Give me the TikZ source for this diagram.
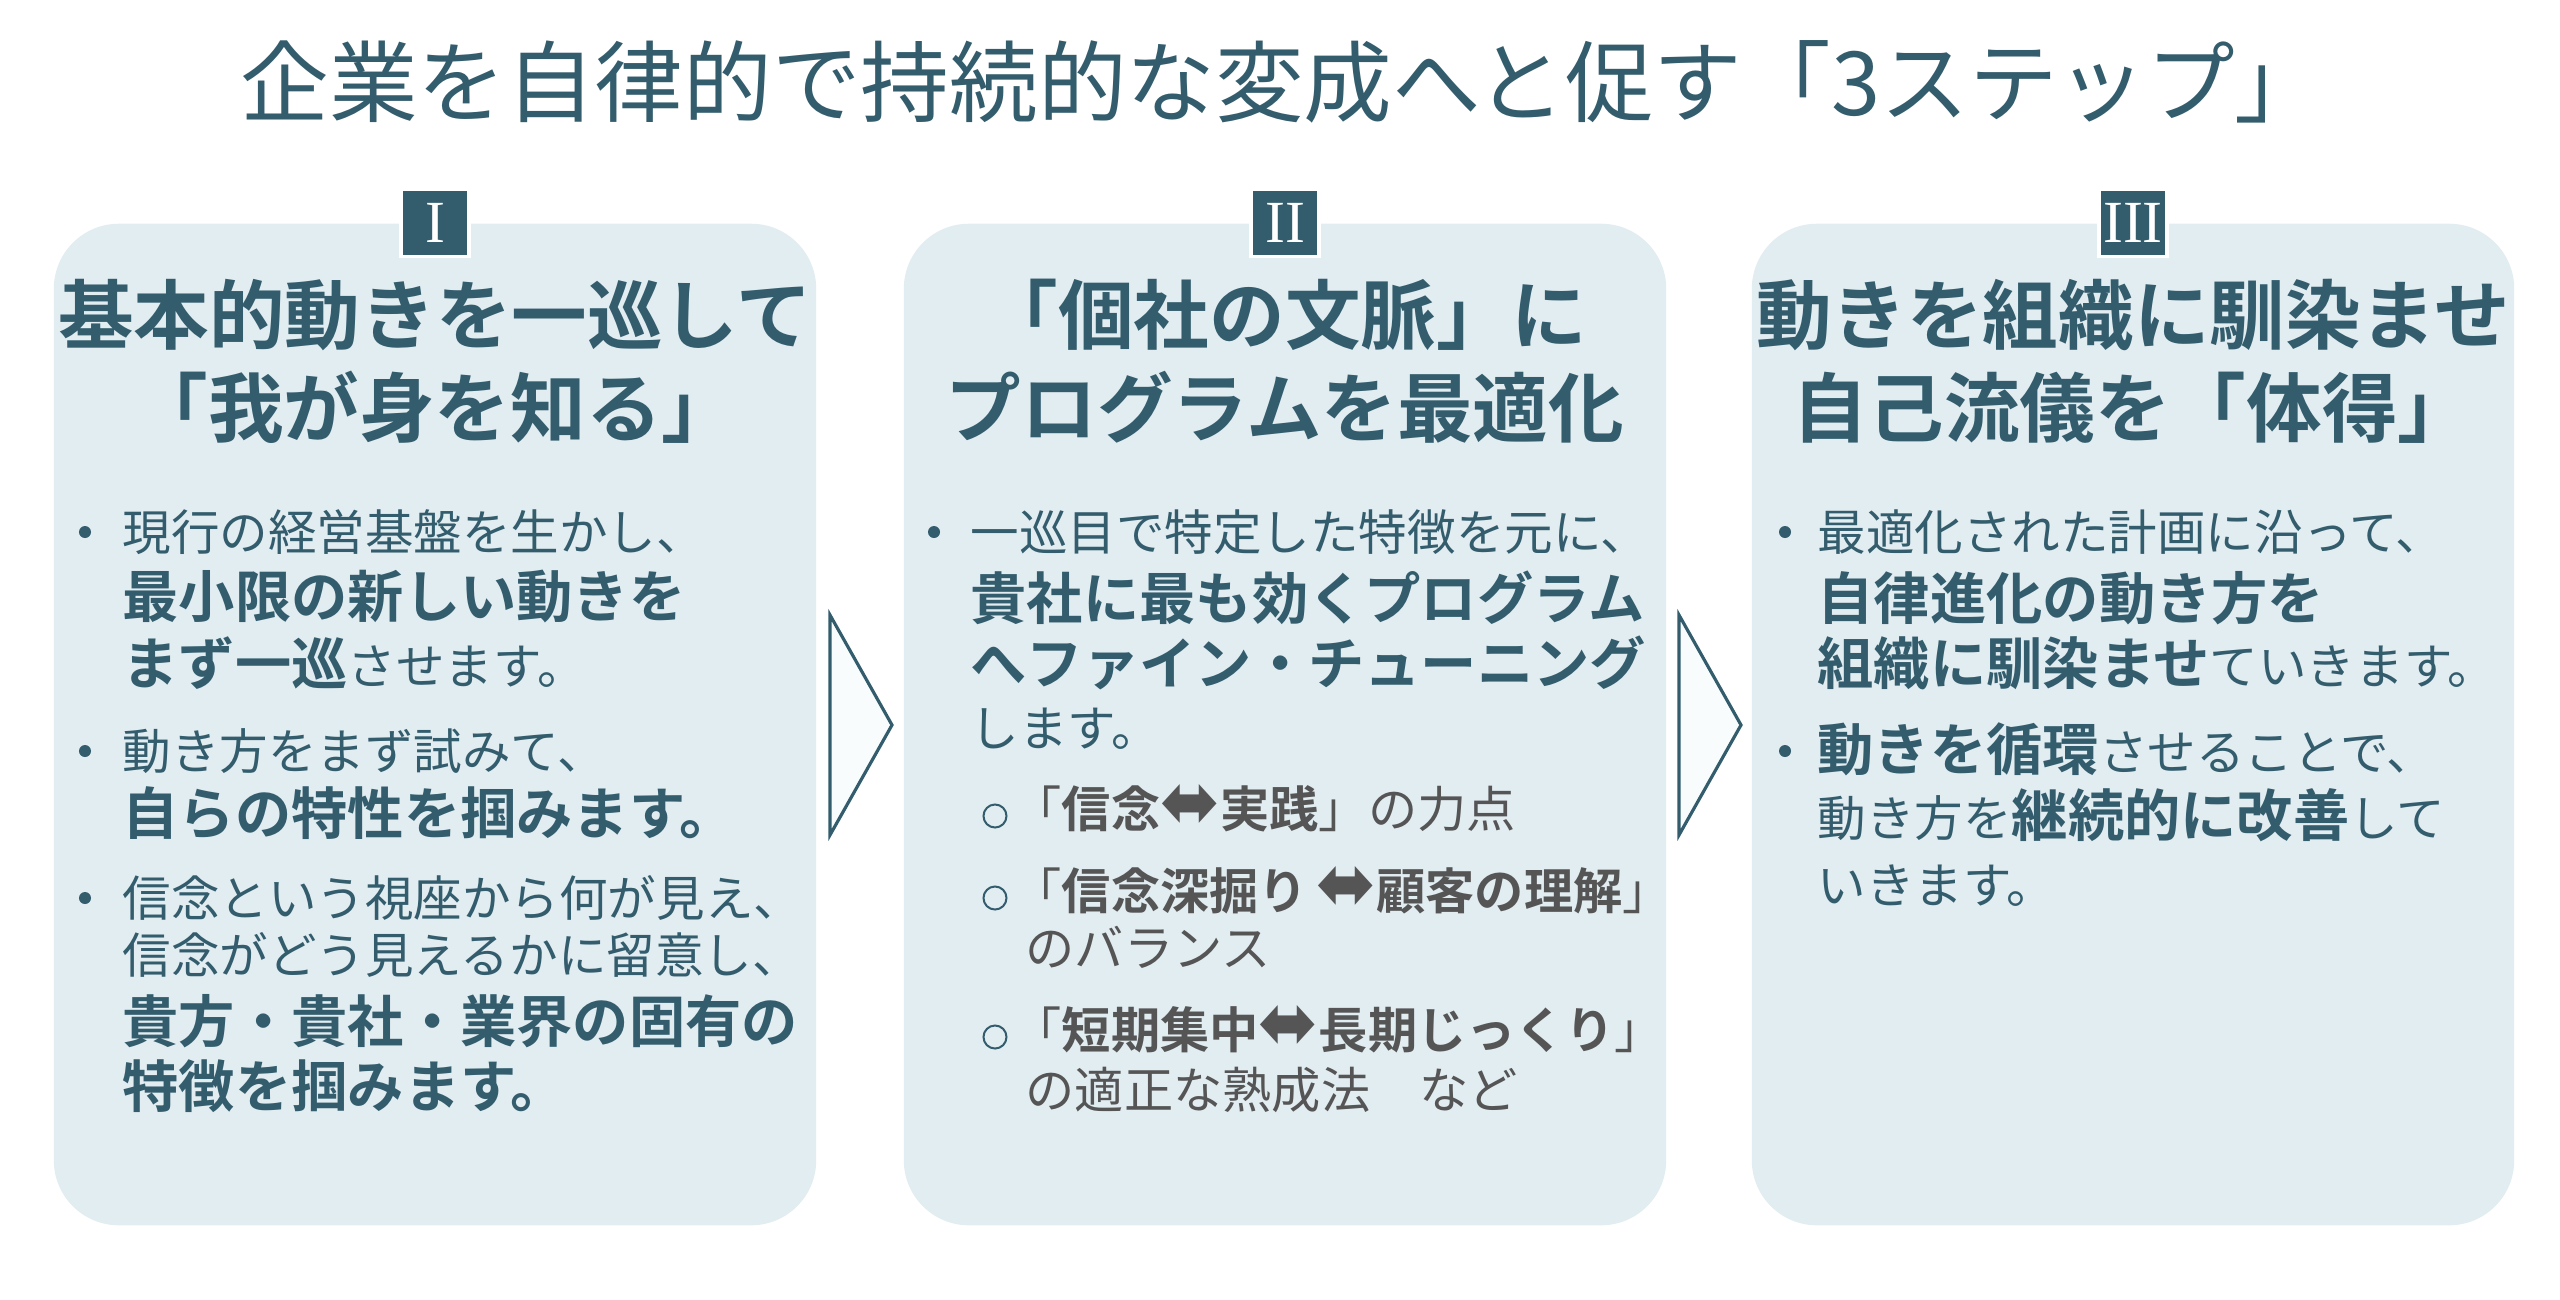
\documentclass[tikz,border=0pt]{standalone}
\usepackage{fontspec}
\usepackage{graphicx}
\newfontfamily\jp[BoldFont={Noto Sans CJK JP Bold}]{Noto Sans CJK JP}
\newfontfamily\numfont{Liberation Serif}
\newfontfamily\symfont{DejaVu Sans}
\usetikzlibrary{positioning}
\definecolor{ink}{RGB}{51,93,109}
\definecolor{panelbg}{RGB}{226,237,242}
\definecolor{subgray}{RGB}{85,85,85}
\definecolor{arrowbg}{RGB}{248,252,253}
\newcommand\bd[1]{{\bfseries\fontsize{16}{19}\selectfont #1}}
\newcommand\lr{\raisebox{-0.01cm}{\resizebox*{0.6cm}{0.44cm}{\symfont ⬌}}}

\begin{document}
\begin{tikzpicture}[
  x=0.01cm, y=-0.01cm,
  title/.style={text=ink,inner sep=0,font=\jp\fontsize{25.2}{29}\selectfont},
  panel/.style={fill=panelbg,rounded corners=0.65cm,minimum width=7.62cm,minimum height=10.01cm,inner sep=0},
  badge/.style={fill=ink,draw=white,line width=1pt,minimum width=0.68cm,minimum height=0.67cm,inner sep=0,
                text=white,font=\numfont\fontsize{17}{17}\selectfont},
  head/.style={anchor=base,inner sep=0,text=ink,font=\jp\bfseries\fontsize{21.5}{25}\selectfont},
  txt/.style={anchor=base west,inner sep=0,text=ink,font=\jp\fontsize{13.8}{16}\selectfont},
  sub/.style={txt,text=subgray,font=\jp\fontsize{14}{16}\selectfont},
  dot/.style={circle,fill=ink,minimum size=0.12cm,inner sep=0},
  ring/.style={circle,draw=ink,line width=0.57pt,minimum size=0.23cm,inner sep=0},
  arr/.style={draw=ink,fill=arrowbg,line width=0.9pt,line join=miter}
]
\useasboundingbox (0,0) rectangle (2560,1299);

% title
\node[title] (title) at (1282,82) {企業を自律的で持続的な変成へと促す「3ステップ」};

% panels
\node[panel] (p1) at (435,724.5) {};
\node[panel] (p2) at (1285,724.5) {};
\node[panel] (p3) at (2133,724.5) {};
\node[badge] (b1) at (p1.north) {I};
\node[badge] (b2) at (p2.north) {II};
\node[badge] (b3) at (p3.north) {III};

% arrows between panels
\draw[arr] (830,615) -- (892,725) -- (830,835) -- cycle;
\draw[arr] (1679,615) -- (1741,725) -- (1679,835) -- cycle;

% step I
\node[head] (h1a) at (435,343) {基本的動きを一巡して};
\node[head] (h1b) at (435,436) {「我が身を知る」};
\node[dot] (d1a) at (85,532) {};
\node[txt] (t1a) at (122,550) {現行の経営基盤を生かし、};
\node[txt] (t1b) at (122,617) {\bd{最小限の新しい動きを}};
\node[txt] (t1c) at (122,684) {\bd{まず一巡}させます。};
\node[dot] (d1b) at (85,751) {};
\node[txt] (t1d) at (122,769) {動き方をまず試みて、};
\node[txt] (t1e) at (122,834) {\bd{自らの特性を掴みます。}};
\node[dot] (d1c) at (85,898) {};
\node[txt] (t1f) at (122,916) {信念という視座から何が見え、};
\node[txt] (t1g) at (122,973) {信念がどう見えるかに留意し、};
\node[txt] (t1h) at (122,1042) {\bd{貴方・貴社・業界の固有の}};
\node[txt] (t1i) at (122,1107) {\bd{特徴を掴みます。}};

% step II
\node[head] (h2a) at (1285,343) {「個社の文脈」に};
\node[head] (h2b) at (1285,436) {プログラムを最適化};
\node[dot] (d2a) at (934,532) {};
\node[txt] (t2a) at (970,550) {一巡目で特定した特徴を元に、};
\node[txt] (t2b) at (970,619) {\bd{貴社に最も効くプログラム}};
\node[txt] (t2c) at (970,684) {\bd{へファイン・チューニング}};
\node[txt] (t2d) at (970,746) {します。};
\node[ring] (r2a) at (995,816) {};
\node[sub] (s2a) at (1012,827) {「\textbf{信念}\lr\textbf{実践}」の力点};
\node[ring] (r2b) at (995,898) {};
\node[sub] (s2b) at (1012,909) {「\textbf{信念深掘り}\,\lr\textbf{顧客の理解}」};
\node[sub] (s2c) at (1025,966) {のバランス};
\node[ring] (r2c) at (995,1037) {};
\node[sub] (s2d) at (1012,1048) {「\textbf{短期集中}\lr\textbf{長期じっくり}」};
\node[sub] (s2e) at (1025,1108) {の適正な熟成法　など};

% step III
\node[head] (h3a) at (2133,343) {動きを組織に馴染ませ};
\node[head] (h3b) at (2133,436) {自己流儀を「体得」};
\node[dot] (d3a) at (1785,532) {};
\node[txt] (t3a) at (1817,550) {最適化された計画に沿って、};
\node[txt] (t3b) at (1817,619) {\bd{自律進化の動き方を}};
\node[txt] (t3c) at (1817,684) {\bd{組織に馴染ませ}ていきます。};
\node[dot] (d3b) at (1785,751) {};
\node[txt] (t3d) at (1817,770) {\bd{動きを循環}させることで、};
\node[txt] (t3e) at (1817,836) {動き方を\bd{継続的に改善}して};
\node[txt] (t3f) at (1817,903) {いきます。};
\end{tikzpicture}
\end{document}
